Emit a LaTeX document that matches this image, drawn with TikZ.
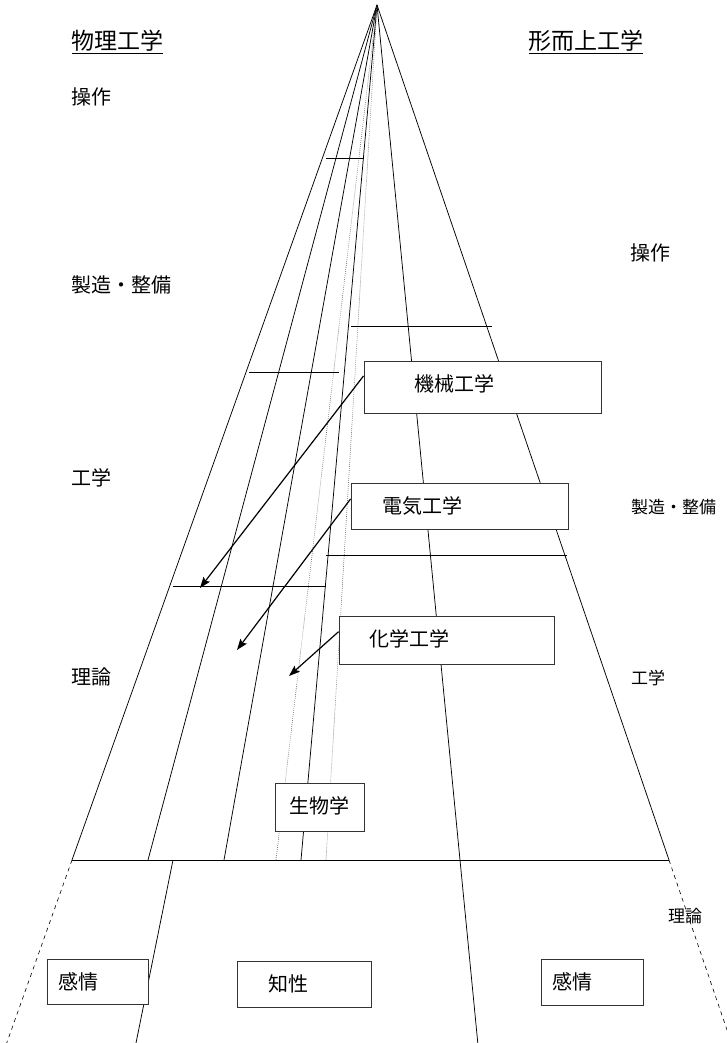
\documentclass[tikz,border=0pt]{standalone}
\usepackage{fontspec}
\newfontfamily\jp{Noto Sans CJK JP}
\usetikzlibrary{arrows.meta,calc}
\tikzset{
  ray/.style={line width=0.75pt,black},
  dotray/.style={line width=0.6pt,black!55,dash pattern=on 0.8pt off 1.2pt},
  dashray/.style={line width=0.6pt,black,dash pattern=on 4pt off 4pt},
  tick/.style={line width=0.8pt,black},
  boxnode/.style={draw=black!80,line width=0.9pt,fill=white,inner sep=0pt},
  lbl/.style={inner sep=0pt,text=black,font=\jp\fontsize{20}{22}\selectfont},
  lblsmall/.style={inner sep=0pt,text=black,font=\jp\fontsize{17}{19}\selectfont},
  hdr/.style={inner sep=0pt,text=black,font=\jp\fontsize{23}{25}\selectfont},
  arr/.style={line width=1.2pt,black,-{Stealth[length=11pt,width=8pt,inset=2pt]}}
}
\begin{document}
\begin{tikzpicture}[x=1pt,y=-1pt]
\useasboundingbox (0,0) rectangle (727,1043);
\fill[white] (0,0) rectangle (727,1043);
% apex and base points
\coordinate (A) at (377,5);
\coordinate (b1) at (72,860);
\coordinate (b2) at (148,860);
\coordinate (b3) at (224,860);
\coordinate (b4) at (276,860);
\coordinate (b5) at (301,860);
\coordinate (b6) at (326,860);
\coordinate (b7) at (460,860);
\coordinate (b8) at (669,860);
\coordinate (e1) at (6.7,1043);
\coordinate (e7) at (477.8,1043);
\coordinate (e8) at (727,1030);
\coordinate (s1) at (173,860);
\coordinate (s2) at (136,1043);
% rays
\draw[ray] (A) -- (b1);
\draw[ray] (A) -- (b2);
\draw[ray] (A) -- (b3);
\draw[dotray] (A) -- (b4);
\draw[ray] (A) -- (b5);
\draw[dotray] (A) -- (b6);
\draw[ray] (A) -- (b7) -- (e7);
\draw[ray] (A) -- (b8);
\draw[dashray] (b1) -- (e1);
\draw[dashray] (b8) -- (e8);
\draw[ray] (s1) -- (s2);
\draw[ray] (b1) -- (b8);
% short horizontal lines
\coordinate (h1a) at (326,158.7); \coordinate (h1b) at (364,158.7);
\coordinate (h2a) at (351,326); \coordinate (h2b) at (492,326);
\coordinate (h3a) at (249,372); \coordinate (h3b) at (339,372);
\coordinate (h4a) at (326,555); \coordinate (h4b) at (567,555);
\coordinate (h5a) at (173,586.5); \coordinate (h5b) at (326,586.5);
\draw[tick] (h1a) -- (h1b);
\draw[tick] (h2a) -- (h2b);
\draw[tick] (h3a) -- (h3b);
\draw[tick] (h4a) -- (h4b);
\draw[tick] (h5a) -- (h5b);
% boxes
\node[boxnode,minimum width=237pt,minimum height=52pt] (kikai) at (482.5,387) {};
\node[lbl] (tkikai) at (454,384) {機械工学};
\node[boxnode,minimum width=217pt,minimum height=46pt] (denki) at (459.5,506) {};
\node[lbl] (tdenki) at (422,506) {電気工学};
\node[boxnode,minimum width=215pt,minimum height=48pt] (kagaku) at (446.5,640) {};
\node[lbl] (tkagaku) at (409,639) {化学工学};
\node[boxnode,minimum width=89pt,minimum height=48pt] (seibutsu) at (319.5,807) {};
\node[lbl] (tseibutsu) at (319.5,806) {生物学};
\node[boxnode,minimum width=101pt,minimum height=45pt] (kanjoL) at (97.5,981.5) {};
\node[lbl] (tkanjoL) at (78,982) {感情};
\node[boxnode,minimum width=134pt,minimum height=46pt] (chisei) at (304,984) {};
\node[lbl] (tchisei) at (288,984) {知性};
\node[boxnode,minimum width=102pt,minimum height=46pt] (kanjoR) at (592.5,982) {};
\node[lbl] (tkanjoR) at (572,982) {感情};
% arrows
\coordinate (t1) at (200,588);
\coordinate (t2) at (237,650);
\coordinate (t3) at (289,676);
\draw[arr] ($(kikai.north west)!0.29!(kikai.south west)$) -- (t1);
\draw[arr] ($(denki.north west)!0.35!(denki.south west)$) -- (t2);
\draw[arr] ($(kagaku.north west)!0.33!(kagaku.south west)$) -- (t3);
% headers
\node[hdr,anchor=west] (hL) at (71,41) {物理工学};
\node[hdr,anchor=west] (hR) at (528,41) {形而上工学};
\draw[line width=1pt,black] (72,53.5) -- (163,53.5);
\draw[line width=1pt,black] (529,53.5) -- (643,53.5);
% left labels
\node[lbl,anchor=west] (l1) at (71,97) {操作};
\node[lbl,anchor=west] (l2) at (71,285) {製造・整備};
\node[lbl,anchor=west] (l3) at (71,478) {工学};
\node[lbl,anchor=west] (l4) at (71,677) {理論};
% right labels
\node[lbl,anchor=west] (r1) at (630,253) {操作};
\node[lblsmall,anchor=west] (r2) at (631,507) {製造・整備};
\node[lblsmall,anchor=west] (r3) at (631,678) {工学};
\node[lblsmall,anchor=west] (r4) at (668,916) {理論};
\end{tikzpicture}
\end{document}
